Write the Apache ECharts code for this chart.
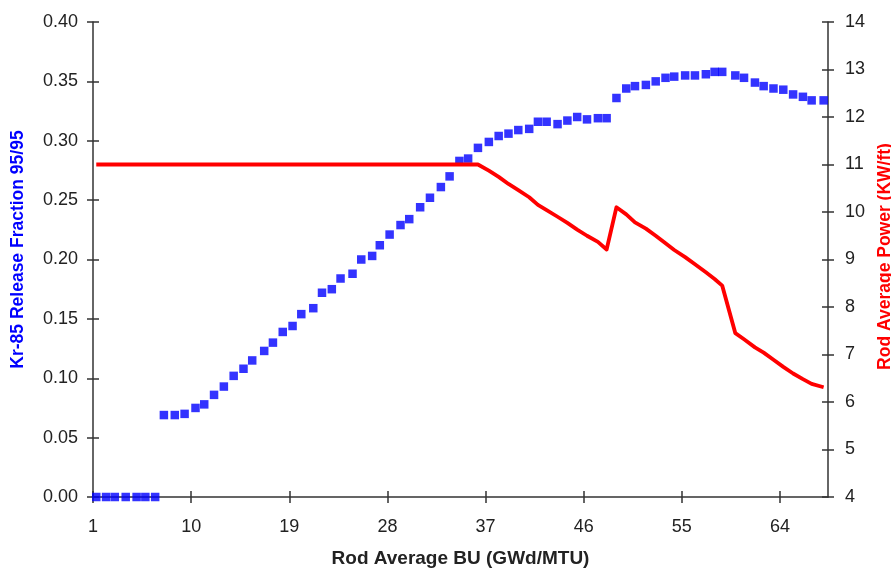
<!DOCTYPE html>
<html>
<head>
<meta charset="utf-8">
<script src="https://cdn.jsdelivr.net/npm/echarts@6/dist/echarts.min.js"></script>
<style>
html,body{margin:0;padding:0;background:#fff;}
#chart{width:891px;height:574px;}
</style>
</head>
<body>
<div id="chart"></div>
<script>
// Rod average burnup (GWd/MTU) for each point
var bu = [1.3,2.2,3.0,4.0,5.0,5.8,6.7,
  7.5,8.5,9.4,10.4,11.2,12.1,13.0,13.9,14.8,15.6,16.7,17.5,18.4,19.3,20.1,21.2,22.0,22.9,23.7,24.8,25.6,26.6,
  27.3,28.2,29.2,30.0,31.0,31.9,32.9,
  33.7,34.6,35.4,36.3,37.3,38.2,39.1,40.0,41.0,41.8,42.6,43.6,44.5,45.4,46.3,47.3,48.1,
  49.0,49.9,50.7,51.7,52.6,53.5,54.3,55.3,56.2,57.2,58.0,58.7,59.9,60.7,61.7,62.5,63.4,64.3,65.2,66.1,66.9,68.0];
// Kr-85 release fraction 95/95
var kr85 = [0,0,0,0,0,0,0,
  0.069,0.069,0.070,0.075,0.078,0.086,0.093,0.102,0.108,0.115,0.123,0.130,0.139,0.144,0.154,0.159,0.172,0.175,0.184,0.188,0.200,0.203,
  0.212,0.221,0.229,0.234,0.244,0.252,0.261,
  0.270,0.283,0.285,0.294,0.299,0.304,0.306,0.309,0.310,0.316,0.316,0.314,0.317,0.320,0.318,0.319,0.319,
  0.336,0.344,0.346,0.347,0.350,0.353,0.354,0.355,0.355,0.356,0.358,0.358,0.355,0.353,0.349,0.346,0.344,0.343,0.339,0.337,0.334,0.334];
// Rod average power (KW/ft)
var power = [11.0,11.0,11.0,11.0,11.0,11.0,11.0,11.0,11.0,11.0,
  11.0,11.0,11.0,11.0,11.0,11.0,11.0,11.0,11.0,11.0,
  11.0,11.0,11.0,11.0,11.0,11.0,11.0,11.0,11.0,11.0,
  11.0,11.0,11.0,11.0,11.0,11.0,11.0,11.0,11.0,11.0,
  10.87,10.74,10.59,10.46,10.31,10.15,10.04,9.90,9.77,9.63,9.50,9.37,9.21,
  10.10,9.95,9.78,9.65,9.50,9.34,9.20,9.05,8.90,8.73,8.59,8.45,
  7.45,7.32,7.15,7.04,6.89,6.74,6.60,6.48,6.38,6.31];
// tick labels
var xTicks = [1,10,19,28,37,46,55,64];
var leftTicks = [0,0.05,0.10,0.15,0.20,0.25,0.30,0.35,0.40];
var rightTicks = [4,5,6,7,8,9,10,11,12,13,14];

var krData = bu.map(function(x,i){return [x,kr85[i]];});
var pwData = bu.map(function(x,i){return [x,power[i]];});

var FONT = 'Liberation Sans, Arial, sans-serif';
var AX = '#333';
var LBL = '#222';

var chart = echarts.init(document.getElementById('chart'), null, {renderer:'canvas'});
chart.setOption({
  animation:false,
  backgroundColor:'#fff',
  grid:{left:93,right:63,top:22,bottom:77,containLabel:false,outerBoundsMode:'none'},
  xAxis:[{
    type:'value', min:1, max:68.4, position:'bottom',
    name:'Rod Average BU (GWd/MTU)', nameLocation:'middle', nameGap:52,
    nameTextStyle:{fontFamily:FONT,fontSize:19,fontWeight:'bold',color:LBL},
    axisLine:{show:true,onZero:false,lineStyle:{color:AX,width:1.5}},
    axisTick:{show:true,length:6,inside:false,customValues:xTicks,lineStyle:{color:AX,width:1.5}},
    axisLabel:{show:true,customValues:xTicks,margin:21,fontFamily:FONT,fontSize:18,color:LBL},
    splitLine:{show:false}
  },{
    type:'value', min:1, max:68.4, position:'bottom',
    axisLine:{show:false},
    axisTick:{show:true,length:6,inside:true,customValues:xTicks,lineStyle:{color:AX,width:1.5}},
    axisLabel:{show:false},
    splitLine:{show:false}
  }],
  yAxis:[{
    type:'value', min:0, max:0.4, interval:0.05, position:'left',
    name:'Kr-85 Release Fraction 95/95', nameLocation:'middle', nameGap:66,
    nameTextStyle:{fontFamily:FONT,fontSize:17.5,fontWeight:'bold',color:'#0000ff',padding:[0,0,0,20]},
    axisLine:{show:true,lineStyle:{color:AX,width:1.5}},
    axisTick:{show:true,length:6,lineStyle:{color:AX,width:1.5}},
    axisLabel:{margin:15,fontFamily:FONT,fontSize:18,color:LBL,formatter:function(v){return v.toFixed(2);}},
    splitLine:{show:false}
  },{
    type:'value', min:4, max:14, interval:1, position:'right',
    name:'Rod Average Power (KW/ft)', nameLocation:'middle', nameGap:44,
    nameTextStyle:{fontFamily:FONT,fontSize:17.5,fontWeight:'bold',color:'#ff0000',padding:[0,0,0,6]},
    axisLine:{show:true,lineStyle:{color:AX,width:1.5}},
    axisTick:{show:true,length:6,lineStyle:{color:AX,width:1.5}},
    axisLabel:{margin:17,fontFamily:FONT,fontSize:18,color:LBL},
    splitLine:{show:false}
  },{
    type:'value', min:0, max:0.4, interval:0.05, position:'left',
    axisLine:{show:false},
    axisTick:{show:true,inside:true,length:6,lineStyle:{color:AX,width:1.5}},
    axisLabel:{show:false}, splitLine:{show:false}
  },{
    type:'value', min:4, max:14, interval:1, position:'right',
    axisLine:{show:false},
    axisTick:{show:true,inside:true,length:6,lineStyle:{color:AX,width:1.5}},
    axisLabel:{show:false}, splitLine:{show:false}
  }],
  series:[{
    name:'Kr-85', type:'scatter', xAxisIndex:0, yAxisIndex:0,
    data:krData, symbol:'rect', symbolSize:8.5,
    itemStyle:{color:'#0000ff'}, z:2
  },{
    name:'Power', type:'line', xAxisIndex:0, yAxisIndex:1,
    data:pwData, showSymbol:false, symbol:'none',
    lineStyle:{color:'#ff0000',width:3.8,join:'round'}, z:3
  }]
});
</script>
</body>
</html>
